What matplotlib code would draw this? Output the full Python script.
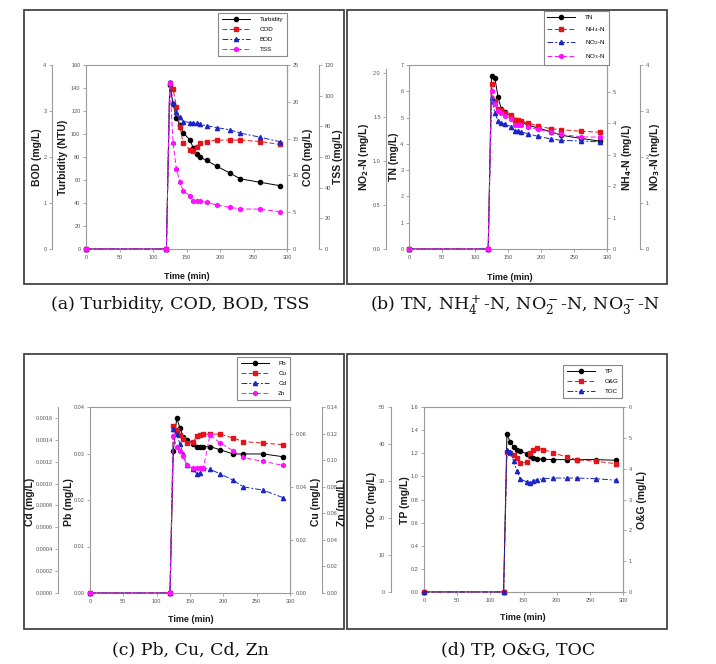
import matplotlib.pyplot as plt
from matplotlib.patches import Rectangle
from matplotlib.ticker import MultipleLocator, FormatStrFormatter

plt.rcParams['font.family'] = ['Liberation Sans', 'DejaVu Sans']

W, H = 716, 664

# sampling times (min), same for every panel
time = [0, 120, 125, 130, 135, 140, 145, 155, 160, 165, 170, 180, 195, 215, 230, 260, 290]

# (a) Turbidity, COD, BOD, TSS
turbidity = [0, 0, 143, 126, 114, 108, 101, 95, 88, 83, 80, 77, 72, 66, 61, 58, 55]
cod = [0, 0, 22.5, 21.7, 19.3, 16.6, 14.4, 13.5, 13.3, 13.9, 14.4, 14.6, 14.8, 14.8, 14.8, 14.6, 14.2]
bod = [0, 0, 3.64, 3.17, 2.98, 2.86, 2.77, 2.75, 2.75, 2.73, 2.71, 2.68, 2.64, 2.59, 2.52, 2.43, 2.33]
tss = [0, 0, 108, 69, 52, 44, 38, 34.6, 31.5, 31.5, 31.3, 30.4, 28.7, 27.2, 26.1, 26, 24.3]

# (b) TN, NH4-N, NO2-N, NO3-N
tn = [0, 0, 6.58, 6.52, 5.77, 5.31, 5.22, 5.03, 4.91, 4.88, 4.85, 4.71, 4.61, 4.46, 4.33, 4.21, 4.10]
nh4 = [0, 0, 5.24, 4.71, 4.47, 4.42, 4.34, 4.26, 4.10, 4.10, 4.08, 4.01, 3.92, 3.83, 3.80, 3.75, 3.72]
no2 = [0, 0, 1.71, 1.55, 1.455, 1.43, 1.42, 1.39, 1.34, 1.34, 1.33, 1.31, 1.28, 1.25, 1.235, 1.227, 1.216]
no3 = [0, 0, 3.43, 3.15, 3.01, 2.95, 2.90, 2.83, 2.70, 2.70, 2.69, 2.65, 2.60, 2.54, 2.49, 2.44, 2.43]

# (c) Pb, Cu, Cd, Zn
pb = [0, 0, 0.0306, 0.0376, 0.0355, 0.0335, 0.033, 0.032, 0.0315, 0.0314, 0.0315, 0.0315, 0.0308, 0.0299, 0.0299, 0.0299, 0.0293]
cu = [0, 0, 0.063, 0.0614, 0.0595, 0.0579, 0.0566, 0.057, 0.0589, 0.0595, 0.0598, 0.0598, 0.0598, 0.0583, 0.057, 0.0564, 0.0558]
cd = [0, 0, 0.0015, 0.00145, 0.00136, 0.00127, 0.00117, 0.00113, 0.00109, 0.0011, 0.00114, 0.00113, 0.00109, 0.00103, 0.00097, 0.00094, 0.00087]
zn = [0, 0, 0.118, 0.110, 0.107, 0.103, 0.096, 0.094, 0.094, 0.094, 0.094, 0.119, 0.113, 0.107, 0.102, 0.099, 0.096]

# (d) TP, O&G, TOC
tp = [0, 0, 1.364, 1.297, 1.254, 1.231, 1.217, 1.197, 1.174, 1.162, 1.154, 1.148, 1.145, 1.145, 1.145, 1.145, 1.139]
og = [0, 0, 4.54, 4.51, 4.43, 4.33, 4.18, 4.22, 4.51, 4.62, 4.67, 4.62, 4.51, 4.38, 4.29, 4.24, 4.16]
toc = [0, 0, 38.5, 37.8, 35.4, 32.7, 30.6, 29.7, 29.5, 30.0, 30.4, 30.6, 30.8, 30.8, 30.8, 30.6, 30.2]

GRAY = '#9a9a9a'
TICK_TXT = '#555555'
STYLE = {
    'k': dict(color='black', marker='o', ls='-'),
    'r': dict(color='#e5141c', marker='s', ls=(0, (5, 2.5))),
    'b': dict(color='#1a24c8', marker='^', ls=(0, (6, 2, 2, 2))),
    'm': dict(color='#ff10ff', marker='h', ls=(0, (5, 2.5))),
}

fig = plt.figure(figsize=(W / 100, H / 100), dpi=100)


def fx(x):
    return x / W


def fy(y):
    return 1 - y / H


def box(left, top, right, bottom):
    r = Rectangle((fx(left), fy(bottom)), (right - left) / W, (bottom - top) / H,
                  transform=fig.transFigure, fill=False, ec='#444444', lw=1.3)
    fig.add_artist(r)
    return r


def set_scale(ax, side, top, step, fmt):
    ax.set_ylim(0, top)
    ax.yaxis.set_major_locator(MultipleLocator(step))
    ax.yaxis.set_major_formatter(FormatStrFormatter(fmt))
    ax.yaxis.set_ticks_position(side)
    ax.tick_params(axis='y', direction='out', length=2.5, width=0.6, color=GRAY,
                   labelcolor=TICK_TXT, labelsize=4, pad=1.5)


def host(left, top, right, bottom, ytop, step, fmt):
    ax = fig.add_axes([fx(left), fy(bottom), (right - left) / W, (bottom - top) / H])
    ax.set_xlim(0, 300)
    ax.xaxis.set_major_locator(MultipleLocator(50))
    ax.tick_params(axis='x', direction='out', length=2.5, width=0.6, color=GRAY,
                   labelcolor=TICK_TXT, labelsize=4, pad=1.5)
    for s in ax.spines.values():
        s.set_color(GRAY)
        s.set_linewidth(0.8)
    set_scale(ax, 'left', ytop, step, fmt)
    return ax


def twin(ax, side, ytop, step, fmt, offset=0):
    par = ax.twinx()
    set_scale(par, side, ytop, step, fmt)
    for name, s in par.spines.items():
        s.set_visible(name == side)
    par.spines[side].set_color(GRAY)
    par.spines[side].set_linewidth(0.8)
    if offset:
        par.spines[side].set_position(('outward', offset))
    return par


def plot(ax, y, key, label):
    line, = ax.plot(time, y, lw=0.7, ms=3, clip_on=False, label=label, **STYLE[key])
    return line


def legend(ax, handles, right, top):
    leg = ax.legend(handles=handles, loc='upper right', bbox_to_anchor=(fx(right), fy(top)),
                    bbox_transform=fig.transFigure, fontsize=4.5, fancybox=False,
                    edgecolor='#888888', handlelength=4.5, borderpad=0.6, labelspacing=0.75,
                    handletextpad=1.5, borderaxespad=0, framealpha=1)
    leg.get_frame().set_linewidth(0.8)


def label(x, y, s, rot=90, size=7.5):
    return fig.text(fx(x), fy(y), s, rotation=rot, ha='center', va='center',
                    fontsize=size, fontweight='bold', color='#1a1a1a')


def caption(x, y, s):
    fig.text(fx(x), fy(y), s, ha='center', va='center', fontsize=12.5,
             family='DejaVu Serif', math_fontfamily='dejavuserif', color='#111111')


# ---- (a)
box(24, 10, 344, 284)
ax = host(86, 65, 287, 249, 160, 20, '%d')
a_cod = twin(ax, 'right', 25, 5, '%d')
a_bod = twin(ax, 'left', 4, 1, '%d', 24.5)
a_tss = twin(ax, 'right', 120, 20, '%d', 23)
h = [plot(ax, turbidity, 'k', 'Turbidity'), plot(a_cod, cod, 'r', 'COD'),
     plot(a_bod, bod, 'b', 'BOD'), plot(a_tss, tss, 'm', 'TSS')]
legend(a_tss, h, 287, 13)
label(37, 157, 'BOD (mg/L)')
label(63, 157, 'Turbidity (NTU)')
label(308, 157, 'COD (mg/L)')
label(338, 157, 'TSS (mg/L)')
label(187, 276, 'Time (min)', rot=0, size=6.5)
caption(180, 305, '(a) Turbidity, COD, BOD, TSS')

# ---- (b)
box(347, 10, 667, 284)
ax = host(409, 65, 607, 249, 7, 1, '%d')
b_nh4 = twin(ax, 'right', 5.86, 1, '%d')
b_no2 = twin(ax, 'left', 2.09, 0.5, '%.1f', 16.3)
b_no3 = twin(ax, 'right', 4, 1, '%d', 24)
b_no2.spines['left'].set_bounds(0, 2.05)
h = [plot(ax, tn, 'k', 'TN'), plot(b_nh4, nh4, 'r', 'NH$_4$-N'),
     plot(b_no2, no2, 'b', 'NO$_2$-N'), plot(b_no3, no3, 'm', 'NO$_3$-N')]
legend(b_no3, h, 609, 11)
label(364, 157, r'NO$_\mathbf{2}$-N (mg/L)')
label(394, 157, 'TN (mg/L)')
label(627, 157, r'NH$_\mathbf{4}$-N (mg/L)')
label(655, 157, r'NO$_\mathbf{3}$-N (mg/L)')
label(510, 277, 'Time (min)', rot=0, size=6.5)
caption(515, 305, '(b) TN, NH$_4^+$-N, NO$_2^-$-N, NO$_3^-$-N')

# ---- (c)
box_c = box(24, 354, 344, 629)
ax = host(90, 407, 290, 593, 0.04, 0.01, '%.2f')
c_cu = twin(ax, 'right', 0.07, 0.02, '%.2f')
c_cd = twin(ax, 'left', 0.0017, 0.0002, '%.4f', 22.8)
c_zn = twin(ax, 'right', 0.14, 0.02, '%.2f', 22.8)
h = [plot(ax, pb, 'k', 'Pb'), plot(c_cu, cu, 'r', 'Cu'),
     plot(c_cd, cd, 'b', 'Cd'), plot(c_zn, zn, 'm', 'Zn')]
legend(c_zn, h, 290, 357)
label(30, 502, 'Cd (mg/L)')
label(69, 502, 'Pb (mg/L)')
label(316, 502, 'Cu (mg/L)')
zl = label(342, 502, 'Zn (mg/L)')
zl.set_clip_path(box_c)
label(191, 620, 'Time (min)', rot=0, size=6.5)
caption(190, 650, '(c) Pb, Cu, Cd, Zn')

# ---- (d)
box(347, 354, 667, 629)
ax = host(424, 407, 623, 592, 1.6, 0.2, '%.1f')
d_og = twin(ax, 'right', 6, 1, '%d')
d_toc = twin(ax, 'left', 50, 10, '%d', 24)
h = [plot(ax, tp, 'k', 'TP'), plot(d_og, og, 'r', 'O&G'), plot(d_toc, toc, 'b', 'TOC')]
legend(d_toc, h, 622, 365)
label(372, 500, 'TOC (mg/L)')
label(405, 500, 'TP (mg/L)')
label(642, 500, 'O&G (mg/L)')
label(523, 618, 'Time (min)', rot=0, size=6.5)
caption(518, 650, '(d) TP, O&G, TOC')

fig.savefig('out.png', dpi=100)
